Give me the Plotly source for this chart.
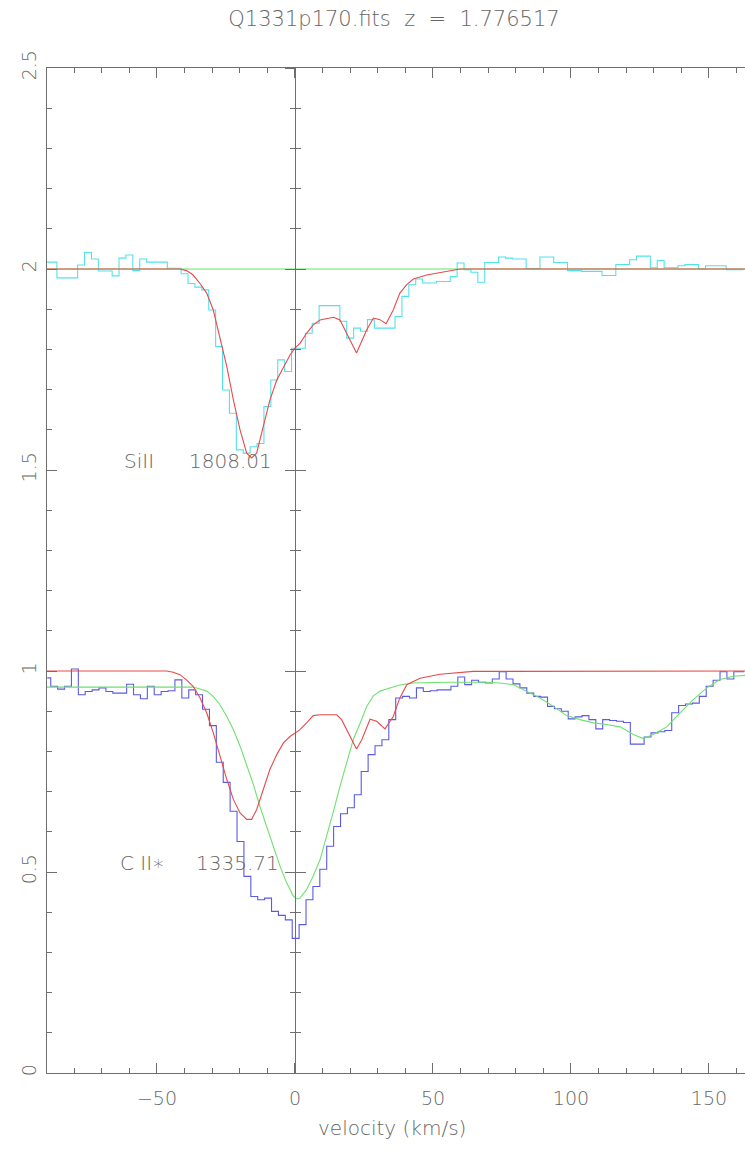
import plotly.graph_objects as go

# ---------------- data ----------------
X_MIN, X_MAX = -89.85, 163.05

# C II* 1335.71 observed flux (blue histogram), bin centres in km/s
v_blue = [round(-89.75 + 2.5 * i, 2) for i in range(102)]
f_blue = [0.983, 0.962, 0.955, 0.962, 1.005, 0.941, 0.949, 0.953, 0.958, 0.949,
          0.945, 0.945, 0.967, 0.941, 0.931, 0.962, 0.941, 0.949, 0.951, 0.978,
          0.933, 0.953, 0.941, 0.905, 0.864, 0.773, 0.723, 0.651, 0.576, 0.489,
          0.439, 0.431, 0.435, 0.402, 0.392, 0.381, 0.335, 0.369, 0.431, 0.464,
          0.507, 0.564, 0.613, 0.645, 0.660, 0.692, 0.750, 0.792, 0.814, 0.829,
          0.879, 0.933, 0.937, 0.933, 0.958, 0.949, 0.951, 0.953, 0.953, 0.962,
          0.985, 0.966, 0.977, 0.972, 0.970, 0.980, 0.998, 0.980, 0.968, 0.958,
          0.945, 0.937, 0.935, 0.912, 0.906, 0.900, 0.881, 0.886, 0.889, 0.879,
          0.856, 0.879, 0.877, 0.875, 0.872, 0.818, 0.818, 0.836, 0.846, 0.849,
          0.852, 0.896, 0.914, 0.918, 0.920, 0.937, 0.962, 0.977, 0.998, 0.980,
          0.998, 0.998]

# SiII 1808.01 observed flux + 1 (cyan histogram)
v_cyan = [round(-90.0 + 2.5 * i, 2) for i in range(102)]
f_cyan = [2.017, 2.017, 1.978, 1.978, 1.978, 2.010, 2.041, 2.025, 1.995, 1.995,
          1.983, 2.027, 2.035, 1.996, 2.025, 2.017, 2.017, 2.017, 2.002, 2.002,
          1.988, 1.964, 1.955, 1.948, 1.898, 1.807, 1.699, 1.641, 1.550, 1.542,
          1.558, 1.566, 1.658, 1.724, 1.774, 1.745, 1.803, 1.803, 1.840, 1.865,
          1.909, 1.909, 1.909, 1.870, 1.828, 1.853, 1.845, 1.874, 1.853, 1.853,
          1.853, 1.882, 1.932, 1.961, 1.975, 1.965, 1.965, 1.969, 1.969, 1.981,
          2.015, 1.998, 1.992, 1.967, 2.016, 2.016, 2.030, 2.027, 2.025, 2.025,
          2.001, 2.001, 2.030, 2.030, 2.016, 2.016, 1.996, 1.996, 1.994, 1.994,
          1.994, 1.984, 1.984, 2.011, 2.011, 2.023, 2.032, 2.032, 2.003, 2.021,
          2.003, 2.003, 2.008, 2.011, 2.011, 2.000, 2.008, 2.008, 2.008, 1.998,
          1.998, 1.998]

# SiII continuum (green line in upper panel)
v_cont = [X_MIN, X_MAX]
f_cont = [2.0, 2.0]

# SiII model (red, upper panel)
v_red_top = [X_MIN, -46.5, -44.1, -41.7, -39.3, -36.9, -34.4, -32.0, -29.6, -27.2,
             -24.7, -22.3, -19.9, -17.5, -15.7, -13.9, -11.5, -9.1, -6.6, -4.2,
             -1.8, 0.0, 1.8, 4.2, 6.6, 9.1, 13.9, 16.3, 18.7, 22.3,
             26.0, 28.4, 30.8, 33.0, 35.6, 38.0, 40.5, 42.9, 47.7, 52.5,
             57.4, 59.8, X_MAX]
f_red_top = [2.0, 2.0, 2.0, 2.0, 1.996, 1.985, 1.964, 1.940, 1.898, 1.832,
             1.757, 1.674, 1.600, 1.542, 1.530, 1.542, 1.608, 1.674, 1.724, 1.757,
             1.786, 1.803, 1.815, 1.840, 1.861, 1.873, 1.880, 1.873, 1.840, 1.791,
             1.849, 1.878, 1.874, 1.864, 1.898, 1.940, 1.961, 1.975, 1.985, 1.991,
             1.998, 2.0, 2.0]

# SiII-based prediction for C II* (red, lower panel)
v_red_bot = [X_MIN, -46.5, -44.1, -41.7, -39.3, -36.9, -34.4, -32.0, -29.6, -27.2,
             -24.7, -22.3, -19.9, -17.5, -15.7, -13.9, -11.5, -9.1, -6.6, -4.2,
             -1.8, 0.0, 1.8, 4.2, 6.6, 9.1, 15.1, 16.9, 19.3, 21.1,
             22.3, 24.2, 27.2, 29.6, 32.6, 35.6, 38.0, 40.5, 45.3, 52.5,
             59.8, 64.6, X_MAX]
f_red_bot = [1.0, 1.0, 0.997, 0.991, 0.978, 0.962, 0.933, 0.896, 0.846, 0.788,
             0.730, 0.680, 0.647, 0.631, 0.631, 0.655, 0.705, 0.755, 0.792, 0.821,
             0.837, 0.846, 0.854, 0.871, 0.889, 0.891, 0.891, 0.879, 0.846, 0.821,
             0.806, 0.829, 0.880, 0.875, 0.856, 0.887, 0.933, 0.966, 0.982, 0.992,
             0.997, 0.999, 1.0]

# C II* fit (green, lower panel)
v_green_bot = [X_MIN, -36.9, -34.4, -32.0, -29.6, -27.2, -24.7, -22.3, -19.9, -17.5,
               -15.1, -12.7, -10.3, -7.8, -5.4, -3.0, -0.6, 0.6, 1.8, 4.2,
               6.6, 9.1, 11.5, 13.9, 16.3, 18.7, 21.1, 23.6, 26.0, 28.4,
               30.8, 33.2, 38.0, 42.9, 55.0, 69.4, 74.3, 79.1, 83.9, 88.8,
               93.6, 98.4, 103.3, 108.1, 112.9, 117.8, 122.6, 126.2, 129.8, 134.7,
               139.5, 144.3, 149.2, 154.0, 158.9, X_MAX]
f_green_bot = [0.960, 0.960, 0.955, 0.950, 0.937, 0.916, 0.887, 0.854, 0.813, 0.767,
               0.718, 0.663, 0.614, 0.564, 0.514, 0.473, 0.440, 0.433, 0.435, 0.456,
               0.490, 0.531, 0.589, 0.650, 0.713, 0.771, 0.829, 0.870, 0.912, 0.938,
               0.950, 0.955, 0.965, 0.970, 0.972, 0.972, 0.970, 0.966, 0.949, 0.933,
               0.912, 0.889, 0.879, 0.871, 0.867, 0.861, 0.842, 0.832, 0.842, 0.861,
               0.896, 0.929, 0.958, 0.979, 0.987, 0.989]

x_tickvals = [-50, 0, 50, 100, 150]
y_tickvals = [0, 0.5, 1, 1.5, 2, 2.5]
y_ticktext = ["0", "0.5", "1", "1.5", "2", "2.5"]

title_text = "Q1331p170.fits  z  =  1.776517"
xlabel_text = "velocity (km/s)"
labels = [("SiII", -56.5, 1.5), ("1808.01", -23.2, 1.5),
          ("C II\u2217", -55.1, 0.5), ("1335.71", -21.0, 0.5)]

# ---------------- style ----------------
FONT = "DejaVu Sans Light, DejaVu Sans, sans-serif"
TXT = "#666666"
AX = "#6e6e6e"
CYAN = "#52e2ee"
BLUE = "#5a5ae6"
RED = "#e84a4a"
GREEN = "#6fe06f"

fig = go.Figure()
fig.add_trace(go.Scatter(x=v_cyan, y=f_cyan, mode="lines", line=dict(color=CYAN, width=1.1, shape="hvh")))
fig.add_trace(go.Scatter(x=v_cont, y=f_cont, mode="lines", line=dict(color=GREEN, width=1.1)))
fig.add_trace(go.Scatter(x=v_red_top, y=f_red_top, mode="lines", line=dict(color=RED, width=1.1)))
fig.add_trace(go.Scatter(x=v_blue, y=f_blue, mode="lines", line=dict(color=BLUE, width=1.1, shape="hvh")))
fig.add_trace(go.Scatter(x=v_green_bot, y=f_green_bot, mode="lines", line=dict(color=GREEN, width=1.1)))
fig.add_trace(go.Scatter(x=v_red_bot, y=f_red_bot, mode="lines", line=dict(color=RED, width=1.1)))
# helper traces so the velocity-zero axes are drawn
fig.add_trace(go.Scatter(x=[None], y=[None], yaxis="y2", showlegend=False))
fig.add_trace(go.Scatter(x=[None], y=[None], yaxis="y3", showlegend=False))

for txt, xv, yv in labels:
    fig.add_annotation(x=xv, y=yv, text=txt, showarrow=False, xanchor="center",
                       yanchor="bottom", yshift=-5,
                       font=dict(family=FONT, size=20, color=TXT))

zero_pos = (0 - X_MIN) / (X_MAX - X_MIN)
zero_axis = dict(overlaying="y", anchor="free", position=zero_pos, side="left",
                 range=[0, 2.5], showline=True, linecolor=AX, linewidth=1,
                 showgrid=False, zeroline=False, showticklabels=False,
                 tickvals=y_tickvals, ticklen=10, tickcolor=AX, tickwidth=1,
                 minor=dict(dtick=0.1, tick0=0, ticklen=5, tickcolor=AX, tickwidth=1))

fig.update_layout(
    width=745, height=1152,
    margin=dict(l=47, r=0, t=68, b=79),
    paper_bgcolor="white", plot_bgcolor="white",
    showlegend=False,
    font=dict(family=FONT, size=19, color=TXT),
    title=dict(text=title_text, x=394 / 745, xref="container", xanchor="center",
               y=1 - 19 / 1152, yref="container", yanchor="middle",
               font=dict(family=FONT, size=21, color=TXT)),
    xaxis=dict(range=[X_MIN, X_MAX], showline=True, linecolor=AX, linewidth=1,
               mirror="ticks", ticks="inside", ticklen=10, tickcolor=AX, tickwidth=1,
               tickvals=x_tickvals, showgrid=False, zeroline=False,
               minor=dict(dtick=10, tick0=0, ticks="inside", ticklen=5, tickcolor=AX, tickwidth=1),
               tickfont=dict(family=FONT, size=19, color=TXT),
               ticklabelstandoff=8),
    yaxis=dict(range=[0, 2.5], showline=True, linecolor=AX, linewidth=1,
               ticks="inside", ticklen=10, tickcolor=AX, tickwidth=1,
               tickvals=y_tickvals, ticktext=y_ticktext, tickangle=-90,
               showgrid=False, zeroline=False,
               minor=dict(dtick=0.1, tick0=0, ticks="inside", ticklen=5, tickcolor=AX, tickwidth=1),
               tickfont=dict(family=FONT, size=19, color=TXT),
               ticklabelstandoff=2),
    yaxis2=dict(zero_axis, ticks="outside", minor=dict(zero_axis["minor"], ticks="outside")),
    yaxis3=dict(zero_axis, ticks="inside", minor=dict(zero_axis["minor"], ticks="inside")),
)
fig.add_annotation(x=(392 - 47) / 698, y=-(1128 - 1073) / 1005, xref="paper", yref="paper",
                   text=xlabel_text, showarrow=False, xanchor="center", yanchor="middle",
                   font=dict(family=FONT, size=20, color=TXT))

fig.write_html("out.html")
